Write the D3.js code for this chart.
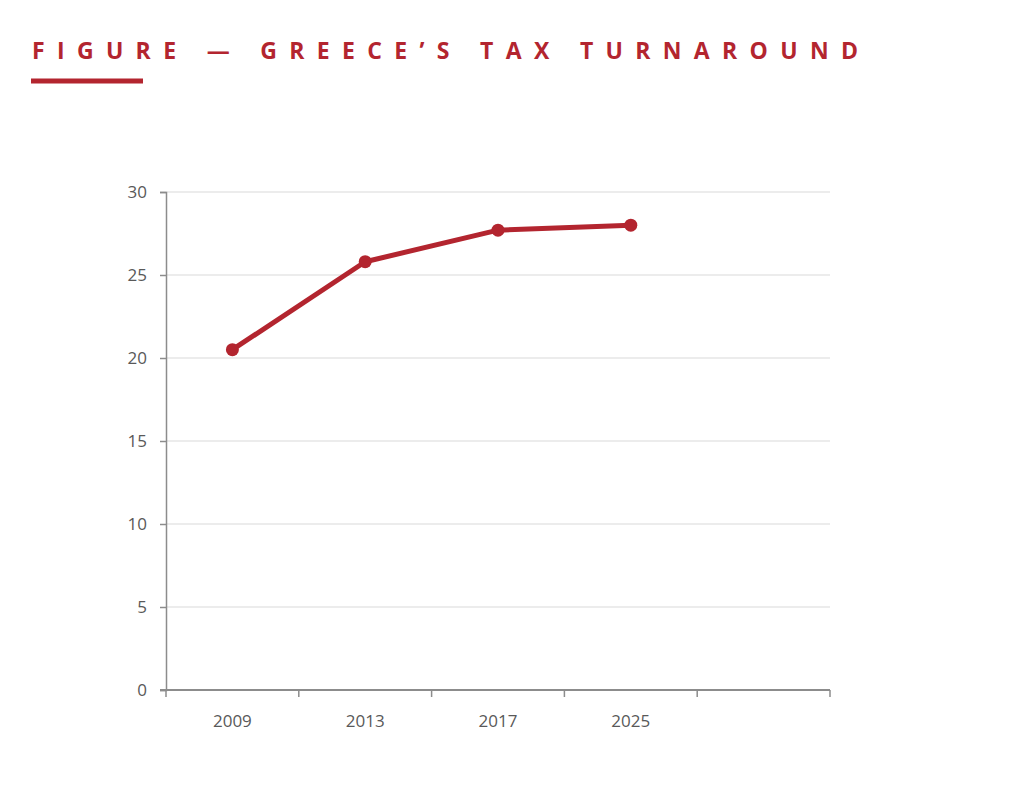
<!DOCTYPE html>
<html>
<head>
<meta charset="utf-8">
<script src="https://cdn.jsdelivr.net/npm/d3@7"></script>
<style>
  body { margin: 0; background: #fff; }
  svg { display: block; }
  text { font-family: "Open Sans", sans-serif; }
</style>
</head>
<body>
<div id="chart"></div>
<script>
var years = ['2009', '2013', '2017', '2025', '']
var taxValues = [20.5, 25.8, 27.7, 28.0]
var yTicks = [0, 5, 10, 15, 20, 25, 30]

var red = '#b3252f'
var width = 1024, height = 800
var margin = {left: 166, right: 194, top: 192, bottom: 110}

var svg = d3.select('#chart').append('svg')
  .attr('width', width).attr('height', height)

// title, spread out to a fixed width like the original
var title = svg.append('text')
  .text('FIGURE — GREECE’S TAX TURNAROUND')
  .attr('x', 32).attr('y', 59)
  .attr('fill', red)
  .style('font-size', '23px')
  .style('font-weight', 700)

var n = title.text().length
var rawLen = title.node().getComputedTextLength()
title.style('letter-spacing', ((826 - rawLen) / (n - 1)) + 'px')

svg.append('rect')
  .attr('x', 31).attr('y', 78.5).attr('width', 112).attr('height', 5)
  .attr('fill', red)

var x = d3.scaleBand().domain(years)
  .range([margin.left, width - margin.right])
var y = d3.scaleLinear().domain([0, 30])
  .range([height - margin.bottom, margin.top])

// gridlines
svg.append('g').selectAll('line')
  .data(yTicks.filter(d => d > 0))
  .join('line')
  .attr('x1', margin.left).attr('x2', width - margin.right)
  .attr('y1', d => y(d)).attr('y2', d => y(d))
  .attr('stroke', '#d9d9d9').attr('stroke-width', 1.2)

// y axis
var yAxis = svg.append('g')
  .attr('transform', `translate(${margin.left},0)`)
  .call(d3.axisLeft(y).tickValues(yTicks).tickSize(6).tickPadding(13))
yAxis.select('.domain').attr('stroke', '#8c8c8c').attr('stroke-width', 1.5)
yAxis.selectAll('.tick line').attr('stroke', '#8c8c8c').attr('stroke-width', 1.5)
yAxis.selectAll('text')
  .attr('fill', '#595959')
  .style('font-size', '17px')
  .style('font-family', '"Open Sans", sans-serif')

// x axis, ticks on the band edges
var xAxisG = svg.append('g')
  .attr('transform', `translate(0,${y(0)})`)
xAxisG.append('line')
  .attr('x1', margin.left - 6).attr('x2', width - margin.right)
  .attr('stroke', '#8c8c8c').attr('stroke-width', 2)
var edges = years.map(d => x(d)).concat([x.range()[1]])
xAxisG.selectAll('line.tk')
  .data(edges)
  .join('line')
  .attr('class', 'tk')
  .attr('x1', d => d).attr('x2', d => d)
  .attr('y1', 0).attr('y2', 7)
  .attr('stroke', '#8c8c8c').attr('stroke-width', 1.5)
xAxisG.selectAll('text')
  .data(years)
  .join('text')
  .text(d => d)
  .attr('x', d => x(d) + x.bandwidth() / 2)
  .attr('y', 37)
  .attr('text-anchor', 'middle')
  .attr('fill', '#595959')
  .style('font-size', '17px')

// series
var pts = taxValues.map((v, i) => [x(years[i]) + x.bandwidth() / 2, y(v)])

svg.append('path')
  .datum(pts)
  .attr('d', d3.line())
  .attr('fill', 'none')
  .attr('stroke', red)
  .attr('stroke-width', 5)
  .attr('stroke-linejoin', 'round')

svg.append('g').selectAll('circle')
  .data(pts)
  .join('circle')
  .attr('cx', d => d[0]).attr('cy', d => d[1])
  .attr('r', 6.5)
  .attr('fill', red)
</script>
</body>
</html>
